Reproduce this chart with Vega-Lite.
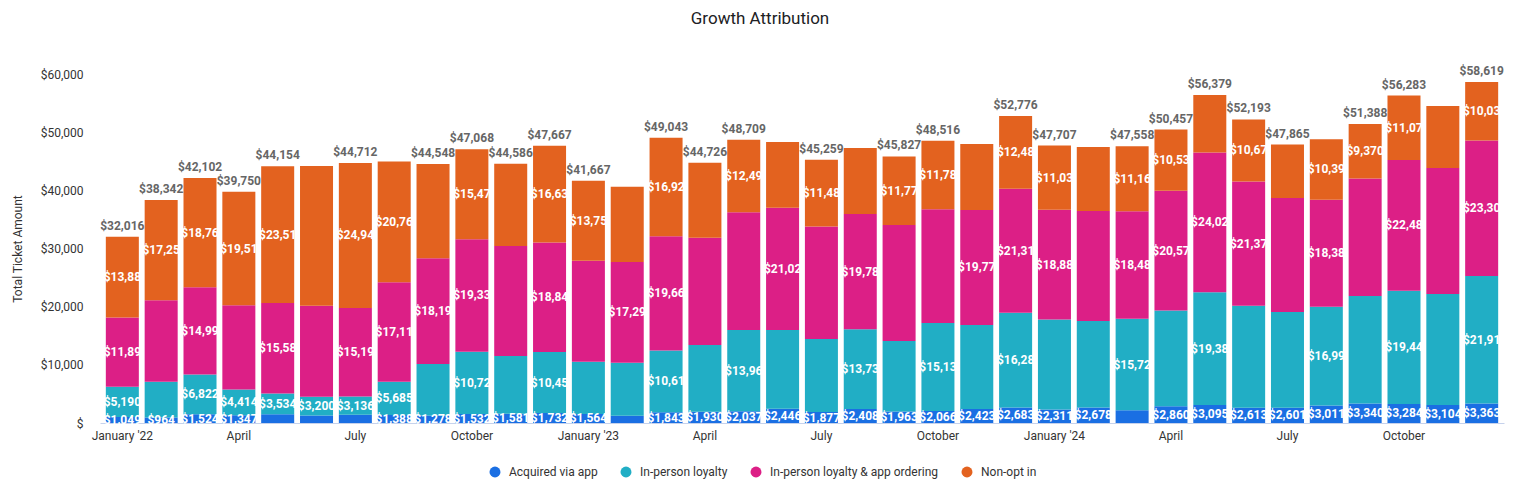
{
  "$schema": "https://vega.github.io/schema/vega-lite/v6.json",
  "width": 1404,
  "height": 349,
  "autosize": "none",
  "padding": {"left": 100, "top": 74, "right": 11, "bottom": 70},
  "background": "white",
  "config": {"view": {"stroke": null}, "font": "Roboto"},
  "title": {"text": "Growth Attribution", "font": "Roboto", "fontSize": 17, "fontWeight": "normal", "color": "#202124", "anchor": "middle", "frame": "group", "offset": 37, "dx": -42},
  "datasets": {
    "rows": [
      {"m":"2022-01","s":"Acquired via app","v":1049,"l":1},{"m":"2022-01","s":"In-person loyalty","v":5190,"l":1},{"m":"2022-01","s":"In-person loyalty & app ordering","v":11895,"l":1},{"m":"2022-01","s":"Non-opt in","v":13882,"l":1},
      {"m":"2022-02","s":"Acquired via app","v":964,"l":1},{"m":"2022-02","s":"In-person loyalty","v":6136,"l":0},{"m":"2022-02","s":"In-person loyalty & app ordering","v":13984,"l":0},{"m":"2022-02","s":"Non-opt in","v":17258,"l":1},
      {"m":"2022-03","s":"Acquired via app","v":1524,"l":1},{"m":"2022-03","s":"In-person loyalty","v":6822,"l":1},{"m":"2022-03","s":"In-person loyalty & app ordering","v":14994,"l":1},{"m":"2022-03","s":"Non-opt in","v":18762,"l":1},
      {"m":"2022-04","s":"Acquired via app","v":1347,"l":1},{"m":"2022-04","s":"In-person loyalty","v":4414,"l":1},{"m":"2022-04","s":"In-person loyalty & app ordering","v":14479,"l":0},{"m":"2022-04","s":"Non-opt in","v":19510,"l":1},
      {"m":"2022-05","s":"Acquired via app","v":1519,"l":0},{"m":"2022-05","s":"In-person loyalty","v":3534,"l":1},{"m":"2022-05","s":"In-person loyalty & app ordering","v":15584,"l":1},{"m":"2022-05","s":"Non-opt in","v":23517,"l":1},
      {"m":"2022-06","s":"Acquired via app","v":1300,"l":0},{"m":"2022-06","s":"In-person loyalty","v":3200,"l":1},{"m":"2022-06","s":"In-person loyalty & app ordering","v":15670,"l":0},{"m":"2022-06","s":"Non-opt in","v":24010,"l":0},
      {"m":"2022-07","s":"Acquired via app","v":1436,"l":0},{"m":"2022-07","s":"In-person loyalty","v":3136,"l":1},{"m":"2022-07","s":"In-person loyalty & app ordering","v":15195,"l":1},{"m":"2022-07","s":"Non-opt in","v":24945,"l":1},
      {"m":"2022-08","s":"Acquired via app","v":1388,"l":1},{"m":"2022-08","s":"In-person loyalty","v":5685,"l":1},{"m":"2022-08","s":"In-person loyalty & app ordering","v":17112,"l":1},{"m":"2022-08","s":"Non-opt in","v":20761,"l":1},
      {"m":"2022-09","s":"Acquired via app","v":1278,"l":1},{"m":"2022-09","s":"In-person loyalty","v":8862,"l":0},{"m":"2022-09","s":"In-person loyalty & app ordering","v":18195,"l":1},{"m":"2022-09","s":"Non-opt in","v":16213,"l":0},
      {"m":"2022-10","s":"Acquired via app","v":1532,"l":1},{"m":"2022-10","s":"In-person loyalty","v":10728,"l":1},{"m":"2022-10","s":"In-person loyalty & app ordering","v":19334,"l":1},{"m":"2022-10","s":"Non-opt in","v":15474,"l":1},
      {"m":"2022-11","s":"Acquired via app","v":1581,"l":1},{"m":"2022-11","s":"In-person loyalty","v":9939,"l":0},{"m":"2022-11","s":"In-person loyalty & app ordering","v":18910,"l":0},{"m":"2022-11","s":"Non-opt in","v":14156,"l":0},
      {"m":"2022-12","s":"Acquired via app","v":1732,"l":1},{"m":"2022-12","s":"In-person loyalty","v":10457,"l":1},{"m":"2022-12","s":"In-person loyalty & app ordering","v":18844,"l":1},{"m":"2022-12","s":"Non-opt in","v":16634,"l":1},
      {"m":"2023-01","s":"Acquired via app","v":1564,"l":1},{"m":"2023-01","s":"In-person loyalty","v":8976,"l":0},{"m":"2023-01","s":"In-person loyalty & app ordering","v":17370,"l":0},{"m":"2023-01","s":"Non-opt in","v":13757,"l":1},
      {"m":"2023-02","s":"Acquired via app","v":1250,"l":0},{"m":"2023-02","s":"In-person loyalty","v":9120,"l":0},{"m":"2023-02","s":"In-person loyalty & app ordering","v":17296,"l":1},{"m":"2023-02","s":"Non-opt in","v":12954,"l":0},
      {"m":"2023-03","s":"Acquired via app","v":1843,"l":1},{"m":"2023-03","s":"In-person loyalty","v":10616,"l":1},{"m":"2023-03","s":"In-person loyalty & app ordering","v":19664,"l":1},{"m":"2023-03","s":"Non-opt in","v":16920,"l":1},
      {"m":"2023-04","s":"Acquired via app","v":1930,"l":1},{"m":"2023-04","s":"In-person loyalty","v":11480,"l":0},{"m":"2023-04","s":"In-person loyalty & app ordering","v":18450,"l":0},{"m":"2023-04","s":"Non-opt in","v":12866,"l":0},
      {"m":"2023-05","s":"Acquired via app","v":2037,"l":1},{"m":"2023-05","s":"In-person loyalty","v":13964,"l":1},{"m":"2023-05","s":"In-person loyalty & app ordering","v":20215,"l":0},{"m":"2023-05","s":"Non-opt in","v":12493,"l":1},
      {"m":"2023-06","s":"Acquired via app","v":2446,"l":1},{"m":"2023-06","s":"In-person loyalty","v":13544,"l":0},{"m":"2023-06","s":"In-person loyalty & app ordering","v":21028,"l":1},{"m":"2023-06","s":"Non-opt in","v":11292,"l":0},
      {"m":"2023-07","s":"Acquired via app","v":1877,"l":1},{"m":"2023-07","s":"In-person loyalty","v":12563,"l":0},{"m":"2023-07","s":"In-person loyalty & app ordering","v":19335,"l":0},{"m":"2023-07","s":"Non-opt in","v":11484,"l":1},
      {"m":"2023-08","s":"Acquired via app","v":2408,"l":1},{"m":"2023-08","s":"In-person loyalty","v":13730,"l":1},{"m":"2023-08","s":"In-person loyalty & app ordering","v":19785,"l":1},{"m":"2023-08","s":"Non-opt in","v":11347,"l":0},
      {"m":"2023-09","s":"Acquired via app","v":1963,"l":1},{"m":"2023-09","s":"In-person loyalty","v":12137,"l":0},{"m":"2023-09","s":"In-person loyalty & app ordering","v":19952,"l":0},{"m":"2023-09","s":"Non-opt in","v":11775,"l":1},
      {"m":"2023-10","s":"Acquired via app","v":2066,"l":1},{"m":"2023-10","s":"In-person loyalty","v":15134,"l":1},{"m":"2023-10","s":"In-person loyalty & app ordering","v":19532,"l":0},{"m":"2023-10","s":"Non-opt in","v":11784,"l":1},
      {"m":"2023-11","s":"Acquired via app","v":2423,"l":1},{"m":"2023-11","s":"In-person loyalty","v":14427,"l":0},{"m":"2023-11","s":"In-person loyalty & app ordering","v":19772,"l":1},{"m":"2023-11","s":"Non-opt in","v":11338,"l":0},
      {"m":"2023-12","s":"Acquired via app","v":2683,"l":1},{"m":"2023-12","s":"In-person loyalty","v":16286,"l":1},{"m":"2023-12","s":"In-person loyalty & app ordering","v":21318,"l":1},{"m":"2023-12","s":"Non-opt in","v":12489,"l":1},
      {"m":"2024-01","s":"Acquired via app","v":2311,"l":1},{"m":"2024-01","s":"In-person loyalty","v":15480,"l":0},{"m":"2024-01","s":"In-person loyalty & app ordering","v":18882,"l":1},{"m":"2024-01","s":"Non-opt in","v":11034,"l":1},
      {"m":"2024-02","s":"Acquired via app","v":2678,"l":1},{"m":"2024-02","s":"In-person loyalty","v":14852,"l":0},{"m":"2024-02","s":"In-person loyalty & app ordering","v":18920,"l":0},{"m":"2024-02","s":"Non-opt in","v":11000,"l":0},
      {"m":"2024-03","s":"Acquired via app","v":2183,"l":0},{"m":"2024-03","s":"In-person loyalty","v":15724,"l":1},{"m":"2024-03","s":"In-person loyalty & app ordering","v":18484,"l":1},{"m":"2024-03","s":"Non-opt in","v":11167,"l":1},
      {"m":"2024-04","s":"Acquired via app","v":2860,"l":1},{"m":"2024-04","s":"In-person loyalty","v":16486,"l":0},{"m":"2024-04","s":"In-person loyalty & app ordering","v":20574,"l":1},{"m":"2024-04","s":"Non-opt in","v":10537,"l":1},
      {"m":"2024-05","s":"Acquired via app","v":3095,"l":1},{"m":"2024-05","s":"In-person loyalty","v":19384,"l":1},{"m":"2024-05","s":"In-person loyalty & app ordering","v":24021,"l":1},{"m":"2024-05","s":"Non-opt in","v":9879,"l":0},
      {"m":"2024-06","s":"Acquired via app","v":2613,"l":1},{"m":"2024-06","s":"In-person loyalty","v":17531,"l":0},{"m":"2024-06","s":"In-person loyalty & app ordering","v":21375,"l":1},{"m":"2024-06","s":"Non-opt in","v":10674,"l":1},
      {"m":"2024-07","s":"Acquired via app","v":2601,"l":1},{"m":"2024-07","s":"In-person loyalty","v":16479,"l":0},{"m":"2024-07","s":"In-person loyalty & app ordering","v":19600,"l":0},{"m":"2024-07","s":"Non-opt in","v":9185,"l":0},
      {"m":"2024-08","s":"Acquired via app","v":3011,"l":1},{"m":"2024-08","s":"In-person loyalty","v":16993,"l":1},{"m":"2024-08","s":"In-person loyalty & app ordering","v":18386,"l":1},{"m":"2024-08","s":"Non-opt in","v":10394,"l":1},
      {"m":"2024-09","s":"Acquired via app","v":3340,"l":1},{"m":"2024-09","s":"In-person loyalty","v":18490,"l":0},{"m":"2024-09","s":"In-person loyalty & app ordering","v":20188,"l":0},{"m":"2024-09","s":"Non-opt in","v":9370,"l":1},
      {"m":"2024-10","s":"Acquired via app","v":3284,"l":1},{"m":"2024-10","s":"In-person loyalty","v":19445,"l":1},{"m":"2024-10","s":"In-person loyalty & app ordering","v":22484,"l":1},{"m":"2024-10","s":"Non-opt in","v":11070,"l":1},
      {"m":"2024-11","s":"Acquired via app","v":3104,"l":1},{"m":"2024-11","s":"In-person loyalty","v":19076,"l":0},{"m":"2024-11","s":"In-person loyalty & app ordering","v":21660,"l":0},{"m":"2024-11","s":"Non-opt in","v":10660,"l":0},
      {"m":"2024-12","s":"Acquired via app","v":3363,"l":1},{"m":"2024-12","s":"In-person loyalty","v":21910,"l":1},{"m":"2024-12","s":"In-person loyalty & app ordering","v":23308,"l":1},{"m":"2024-12","s":"Non-opt in","v":10038,"l":1}
    ],
    "totals": [
      {"m":"2022-01","total":32016},{"m":"2022-02","total":38342},{"m":"2022-03","total":42102},{"m":"2022-04","total":39750},
      {"m":"2022-05","total":44154},{"m":"2022-07","total":44712},{"m":"2022-09","total":44548},{"m":"2022-10","total":47068},
      {"m":"2022-11","total":44586},{"m":"2022-12","total":47667},{"m":"2023-01","total":41667},{"m":"2023-03","total":49043},
      {"m":"2023-04","total":44726},{"m":"2023-05","total":48709},{"m":"2023-07","total":45259},{"m":"2023-09","total":45827},
      {"m":"2023-10","total":48516},{"m":"2023-12","total":52776},{"m":"2024-01","total":47707},{"m":"2024-03","total":47558},
      {"m":"2024-04","total":50457},{"m":"2024-05","total":56379},{"m":"2024-06","total":52193},{"m":"2024-07","total":47865},
      {"m":"2024-09","total":51388},{"m":"2024-10","total":56283},{"m":"2024-12","total":58619}
    ]
  },
  "encoding": {
    "x": {
      "field": "m", "type": "ordinal", "sort": "ascending",
      "scale": {"paddingInner": 0.15, "paddingOuter": 0.15},
      "axis": {
        "title": null, "ticks": false, "grid": false, "labelAngle": 0, "labelOverlap": false,
        "domainColor": "#c6d2ec", "domainWidth": 1, "labelFont": "Roboto", "labelFontSize": 12, "labelColor": "#333333", "labelPadding": 7,
        "labelExpr": "slice(datum.value,5)=='01' ? \"January '\" + slice(datum.value,2,4) : slice(datum.value,5)=='04' ? 'April' : slice(datum.value,5)=='07' ? 'July' : slice(datum.value,5)=='10' ? 'October' : ''"
      }
    }
  },
  "layer": [
    {
      "data": {"name": "rows"},
      "transform": [
        {"stack": "v", "groupby": ["m"], "sort": [{"field": "s", "order": "ascending"}], "as": ["v0", "v1"]}
      ],
      "mark": {"type": "bar"},
      "encoding": {
        "y": {
          "field": "v0", "type": "quantitative",
          "scale": {"domain": [0, 60000], "nice": false},
          "axis": {
            "title": "Total Ticket Amount", "titleFont": "Roboto", "titleFontSize": 12, "titleFontWeight": "normal", "titleColor": "#333333", "titlePadding": 16,
            "values": [0, 10000, 20000, 30000, 40000, 50000, 60000],
            "grid": false, "domain": false, "ticks": false,
            "labelFont": "Roboto", "labelFontSize": 12, "labelColor": "#333333", "labelPadding": 17,
            "labelExpr": "datum.value == 0 ? '$' : '$' + format(datum.value, ',')"
          }
        },
        "y2": {"field": "v1"},
        "color": {
          "field": "s", "type": "nominal",
          "scale": {
            "domain": ["Acquired via app", "In-person loyalty", "In-person loyalty & app ordering", "Non-opt in"],
            "range": ["#1a6fe3", "#21aec5", "#dc1f86", "#e3621f"]
          },
          "legend": {
            "title": null, "orient": "none", "direction": "horizontal", "legendX": 389, "legendY": 392,
            "symbolType": "circle", "symbolSize": 120, "symbolStrokeWidth": 0, "symbolOpacity": 1,
            "labelFont": "Roboto", "labelFontSize": 12, "labelColor": "#333333", "labelOffset": 8, "columnPadding": 22, "labelLimit": 400
          }
        }
      }
    },
    {
      "data": {"name": "rows"},
      "transform": [
        {"stack": "v", "groupby": ["m"], "sort": [{"field": "s", "order": "ascending"}], "as": ["v0", "v1"]},
        {"calculate": "(datum.v0 + datum.v1) / 2", "as": "mid"},
        {"filter": "datum.l == 1"}
      ],
      "mark": {"type": "text", "color": "white", "font": "Roboto", "fontSize": 12, "fontWeight": "bold", "baseline": "middle", "align": "center", "limit": 40, "ellipsis": "\u200b"},
      "encoding": {
        "y": {"field": "mid", "type": "quantitative"},
        "text": {"field": "v", "type": "quantitative", "format": "$,.0f"}
      }
    },
    {
      "data": {"name": "totals"},
      "mark": {"type": "text", "color": "#666666", "font": "Roboto", "fontSize": 12, "fontWeight": "bold", "baseline": "bottom", "align": "center", "dy": -4},
      "encoding": {
        "y": {"field": "total", "type": "quantitative"},
        "text": {"field": "total", "type": "quantitative", "format": "$,.0f"}
      }
    }
  ]
}
